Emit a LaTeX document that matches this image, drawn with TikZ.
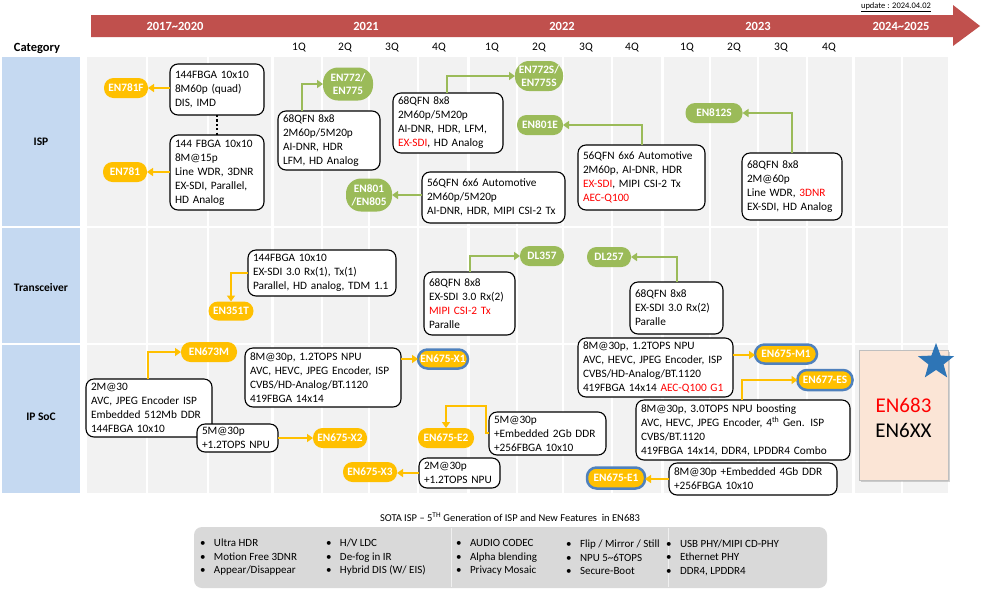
\documentclass[tikz,border=0pt]{standalone}
\usepackage{fontspec}
\setmainfont{Carlito}
\usetikzlibrary{arrows.meta,shapes.geometric,shadows}
\definecolor{barred}{HTML}{C0504D}
\definecolor{catblue}{HTML}{C5D9F1}
\definecolor{gridbg}{HTML}{F2F2F2}
\definecolor{gold}{HTML}{FFC000}
\definecolor{olive}{HTML}{9BBB59}
\definecolor{edgeblue}{HTML}{4F81BD}
\definecolor{hot}{HTML}{FF0000}
\definecolor{peach}{HTML}{FBE5D6}
\definecolor{panel}{HTML}{D9D9D9}
\definecolor{starblue}{HTML}{2E75B6}
\newcommand\boxfont{\fontsize{11.3}{14}\selectfont}
\newcommand\pillfont{\bfseries\fontsize{11.3}{13}\selectfont}
\newcommand\hl[1]{\textcolor{hot}{#1}}
\newcommand\bul{\makebox[14pt][l]{•}}
\begin{document}
\begin{tikzpicture}[x=1pt,y=-1pt,
  every node/.style={inner sep=0pt,outer sep=0pt},
  infobox/.style={draw=black,line width=1.1pt,fill=white,rounded corners=8pt,
    inner xsep=5pt,inner ysep=0pt,align=left,font=\boxfont},
  pill/.style={rounded corners=9.5pt,font=\pillfont,text=white,align=center},
  gpill/.style={pill,fill=olive},
  opill/.style={pill,fill=gold},
  bpill/.style={opill,draw=edgeblue,line width=2.5pt},
  oarrow/.style={draw=gold,line width=2.8pt,-{Triangle[length=6pt,width=8pt]}},
  garrow/.style={draw=olive,line width=2.8pt,-{Triangle[length=6pt,width=8pt]}},
  catlabel/.style={font=\bfseries\fontsize{11.5}{13}\selectfont},
  yearlabel/.style={font=\bfseries\fontsize{12.5}{14}\selectfont,text=white},
  qlabel/.style={font=\fontsize{11.5}{13}\selectfont},
  gridline/.style={draw=white,line width=1.5pt},
  yearline/.style={draw=white,line width=3pt}
]
\useasboundingbox (0,0) rectangle (981,595);
\fill[white] (0,0) rectangle (981,595);

% ---------- timeline bar ----------
\fill[barred] (91,15) -- (953,15) -- (953,5) -- (980,26) -- (953,46) -- (953,37) -- (91,37) -- cycle;
\node[yearlabel] (y1) at (175,26) {2017\textasciitilde2020};
\node[yearlabel] (y2) at (366,26) {2021};
\node[yearlabel] (y3) at (562,26) {2022};
\node[yearlabel] (y4) at (758,26) {2023};
\node[yearlabel] (y5) at (901,26) {2024\textasciitilde2025};
\node[font=\fontsize{8.5}{10}\selectfont] (upd) at (896,7) {\underline{update : 2024.04.02}};

\node[font=\bfseries\fontsize{12.5}{14}\selectfont] (cat) at (37,48) {Category};
\foreach \qx/\ql in {299/1Q,345/2Q,392/3Q,439/4Q,492/1Q,539/2Q,586/3Q,632/4Q,687/1Q,734/2Q,781/3Q,829/4Q}
  \node[qlabel] at (\qx,48) {\ql};

% ---------- grid ----------
\fill[catblue] (2,57) rectangle (80,226);
\fill[catblue] (2,228) rectangle (80,343);
\fill[catblue] (2,345) rectangle (80,493);
\fill[gridbg] (87,57) rectangle (948,226);
\fill[gridbg] (87,228) rectangle (948,343);
\fill[gridbg] (87,345) rectangle (948,493);
\foreach \gx in {147,208,322,369,418,517,563,612,710,758,807,902}
  \draw[gridline] (\gx,57) -- (\gx,493);
\foreach \gx in {272,468,662,853}
  \draw[yearline] (\gx,57) -- (\gx,493);

\node[catlabel] (cisp) at (41,142) {ISP};
\node[catlabel] (ctr) at (41,287) {Transceiver};
\node[catlabel] (csoc) at (41,417) {IP SoC};

% ---------- ISP ----------
\node[infobox,minimum height=51pt,text width=84pt] (A) at (217,89.5)
  {144FBGA 10x10\\8M60p (quad)\\DIS, IMD};
\node[infobox,minimum height=75pt,text width=84pt] (B) at (217,172.5)
  {144 FBGA 10x10\\8M@15p\\Line WDR, 3DNR\\EX-SDI, Parallel,\\HD Analog};
\node[infobox,minimum height=59pt,text width=92pt] (C) at (329,140.5)
  {68QFN 8x8\\2M60p/5M20p\\AI-DNR, HDR\\LFM, HD Analog};
\node[infobox,minimum height=60pt,text width=100pt] (D) at (448,123)
  {68QFN 8x8\\2M60p/5M20p\\AI-DNR, HDR, LFM,\\\hl{EX-SDI}, HD Analog};
\node[infobox,minimum height=65pt,text width=117pt] (E) at (641.5,177.5)
  {56QFN 6x6 Automotive\\2M60p, AI-DNR, HDR\\\hl{EX-SDI}, MIPI CSI-2 Tx\\\hl{AEC-Q100}};
\node[infobox,minimum height=67pt,text width=90pt] (F) at (792,186.5)
  {68QFN 8x8\\2M@60p\\Line WDR, \hl{3DNR}\\EX-SDI, HD Analog};
\node[infobox,minimum height=51pt,text width=133pt] (G) at (493.5,197.5)
  {56QFN 6x6 Automotive\\2M60p/5M20p\\AI-DNR, HDR, MIPI CSI-2 Tx};

\node[opill,minimum width=44pt,minimum height=20pt] (e781f) at (126,88) {EN781F};
\node[opill,minimum width=44pt,minimum height=20pt] (e781) at (125,172) {EN781};
\node[gpill,rounded corners=15pt,minimum width=50pt,minimum height=33pt] (e772) at (348,84) {EN772/\\EN775};
\node[gpill,rounded corners=14pt,minimum width=48pt,minimum height=30pt] (e772s) at (539,76) {EN772S/\\EN775S};
\node[gpill,minimum width=46pt,minimum height=20pt] (e801e) at (540,125) {EN801E};
\node[gpill,rounded corners=15pt,minimum width=46pt,minimum height=33pt] (e801) at (369,195) {EN801\\/EN805};
\node[gpill,minimum width=57pt,minimum height=20pt] (e812s) at (714,113) {EN812S};

\draw[oarrow] (A.west |- e781f.east) -- (e781f.east);
\draw[oarrow] (B.west |- e781.east) -- (e781.east);
\draw[black,line width=2.6pt,dash pattern=on 2.2pt off 2.2pt] (A.south) -- (B.north);
\draw[garrow] ([xshift=24pt]C.north west) |- (e772.west);
\draw[garrow] ([xshift=54pt]D.north west) |- (e772s.west);
\draw[garrow] ([xshift=64pt]E.north west) |- (e801e.east);
\draw[garrow] ([xshift=50pt]F.north west) |- (e812s.east);
\draw[garrow] (G.west |- e801.east) -- (e801.east);

% ---------- Transceiver ----------
\node[infobox,minimum height=46pt,text width=138pt] (H) at (322,273)
  {144FBGA 10x10\\EX-SDI 3.0 Rx(1), Tx(1)\\Parallel, HD analog, TDM 1.1};
\node[infobox,minimum height=63pt,text width=81pt] (I) at (469.5,303.5)
  {68QFN 8x8\\EX-SDI 3.0 Rx(2)\\\hl{MIPI CSI-2 Tx}\\Paralle};
\node[infobox,minimum height=52pt,text width=83pt] (J) at (676.5,308)
  {68QFN 8x8\\EX-SDI 3.0 Rx(2)\\Paralle};
\node[opill,minimum width=45pt,minimum height=19pt] (e351) at (231,311) {EN351T};
\node[gpill,minimum width=44pt,minimum height=20pt] (dl357) at (542,256) {DL357};
\node[gpill,minimum width=44pt,minimum height=20pt] (dl257) at (609,257) {DL257};

\draw[oarrow] (H.west) -| (e351.north);
\draw[garrow] ([xshift=46pt]I.north west) |- (dl357.west);
\draw[garrow] ([xshift=47pt]J.north west) |- (dl257.east);

% ---------- IP SoC ----------
\node[infobox,minimum height=58pt,text width=116pt] (K) at (149,408)
  {2M@30\\AVC, JPEG Encoder ISP\\Embedded 512Mb DDR\\144FBGA 10x10};
\node[infobox,minimum height=28pt,text width=71pt] (L) at (237.5,438)
  {5M@30p\\+1.2TOPS NPU};
\node[infobox,minimum height=59pt,text width=146pt] (M) at (323,377.5)
  {8M@30p, 1.2TOPS NPU\\AVC, HEVC, JPEG Encoder, ISP\\CVBS/HD-Analog/BT.1120\\419FBGA 14x14};
\node[infobox,minimum height=30pt,text width=71pt] (N) at (459.5,473)
  {2M@30p\\+1.2TOPS NPU};
\node[infobox,minimum height=59pt,text width=145pt] (O) at (655.5,367.5)
  {8M@30p, 1.2TOPS NPU\\AVC, HEVC, JPEG Encoder, ISP\\CVBS/HD-Analog/BT.1120\\419FBGA 14x14 \hl{AEC-Q100 G1}};
\node[infobox,minimum height=60pt,text width=204pt] (P) at (743,430)
  {8M@30p, 3.0TOPS NPU boosting\\AVC, HEVC, JPEG Encoder, 4\textsuperscript{th} Gen. ISP\\CVBS/BT.1120\\419FBGA 14x14, DDR4, LPDDR4 Combo};
\node[infobox,minimum height=32pt,text width=158pt] (Q) at (753,479)
  {8M@30p +Embedded 4Gb DDR\\+256FBGA 10x10};
\node[infobox,minimum height=43pt,text width=107pt] (R) at (547.5,433.5)
  {5M@30p\\+Embedded 2Gb DDR\\+256FBGA 10x10};

\node[opill,minimum width=56pt,minimum height=20pt] (e673m) at (209,352) {EN673M};
\node[bpill,minimum width=50pt,minimum height=19pt] (x1) at (443,359) {EN675-X1};
\node[opill,minimum width=54pt,minimum height=20pt] (x2) at (340,438) {EN675-X2};
\node[opill,minimum width=54pt,minimum height=20pt] (x3) at (370,472) {EN675-X3};
\node[opill,minimum width=56pt,minimum height=20pt] (e2) at (446,438) {EN675-E2};
\node[bpill,minimum width=62pt,minimum height=19pt] (m1) at (786,354) {EN675-M1};
\node[bpill,minimum width=55pt,minimum height=20pt] (es) at (825,380) {EN677-ES};
\node[bpill,minimum width=58pt,minimum height=21pt] (e1) at (616,478) {EN675-E1};

\draw[oarrow] ([xshift=62pt]K.north west) |- (e673m.west);
\draw[oarrow] (L.east) -- (L.east -| x2.west);
\draw[oarrow] ([yshift=-11pt]M.north east) -- ([yshift=-11pt]M.north east -| x1.west);
\draw[oarrow] (N.west) -- (N.west -| x3.east);
\draw[oarrow] ([yshift=-17pt]O.north east) -- ([yshift=-17pt]O.north east -| m1.west);
\draw[oarrow] ([xshift=106pt]P.north west) |- (es.west);
\draw[oarrow] (Q.west) -- (Q.west -| e1.east);
\draw[oarrow] ([yshift=-21pt]R.north west) -- ++(-3,0) -- ++(0,-27) -| (e2.north);

% ---------- EN683 ----------
\node[draw=gray!50,line width=0.6pt,fill=peach,minimum width=89pt,minimum height=130pt,
  drop shadow={shadow xshift=2pt,shadow yshift=-2pt,opacity=0.35}] (big) at (903.5,415) {};
\node[font=\fontsize{21}{24}\selectfont,text=hot] (t683) at (903.5,405) {EN683};
\node[font=\fontsize{21}{24}\selectfont] (t6xx) at (903.5,430) {EN6XX};
\node[star,star points=5,star point ratio=2.4,fill=starblue,minimum size=38pt] (star) at (936,362) {};

% ---------- bottom features ----------
\node[font=\fontsize{10.5}{12}\selectfont] (title) at (510,517)
  {SOTA ISP -- 5\textsuperscript{TH} Generation of ISP and New Features\ \ in EN683};
\fill[panel,rounded corners=8pt] (194,527) rectangle (827,588);
\draw[gray!12,line width=0.8pt] (451,528) -- (451,587);
\draw[gray!12,line width=0.8pt] (668,528) -- (668,587);
\begin{scope}[every node/.append style={anchor=west,align=left,font=\fontsize{11}{13.5}\selectfont}]
\node (f1) at (200,557.5) {\bul Ultra HDR\\\bul Motion Free 3DNR\\\bul Appear/Disappear};
\node (f2) at (326,557.5) {\bul H/V LDC\\\bul De-fog in IR\\\bul Hybrid DIS (W/ EIS)};
\node (f3) at (456,557.5) {\bul AUDIO CODEC\\\bul Alpha blending\\\bul Privacy Mosaic};
\node (f4) at (566,557.5) {\bul Flip /\ Mirror / Still\\\bul NPU 5\textasciitilde6TOPS\\\bul Secure-Boot};
\node (f5) at (666,557.5) {\bul USB PHY/MIPI CD-PHY\\\bul Ethernet PHY\\\bul DDR4, LPDDR4};
\end{scope}
\end{tikzpicture}
\end{document}
